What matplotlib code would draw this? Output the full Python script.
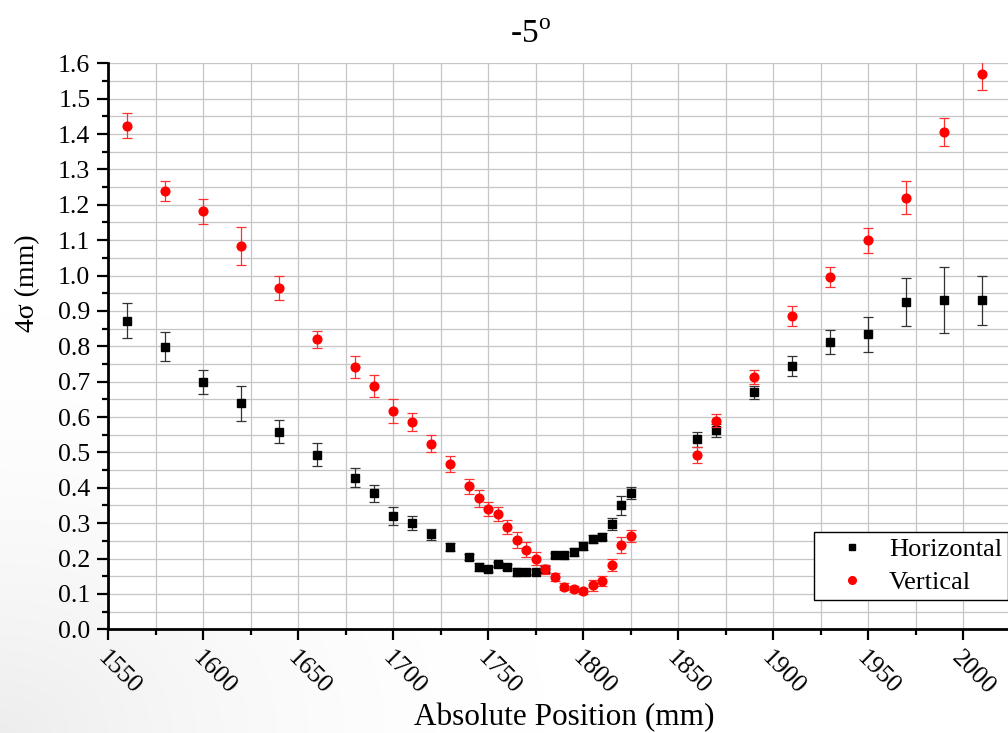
import numpy as np
import matplotlib
matplotlib.use('Agg')
import matplotlib.pyplot as plt
from matplotlib.ticker import MultipleLocator, FormatStrFormatter
from matplotlib.lines import Line2D

plt.rcParams['font.family'] = ['Liberation Serif', 'DejaVu Serif']
plt.rcParams['mathtext.fontset'] = 'custom'
plt.rcParams['mathtext.rm'] = 'Liberation Serif'

# beam size scan, -5 degree setting
position = [1560, 1580, 1600, 1620, 1640, 1660, 1680, 1690, 1700, 1710,
            1720, 1730, 1740, 1745, 1750, 1755, 1760, 1765, 1770, 1775,
            1780, 1785, 1790, 1795, 1800, 1805, 1810, 1815, 1820, 1825,
            1860, 1870, 1890, 1910, 1930, 1950, 1970, 1990, 2010]

horiz = [0.872, 0.799, 0.700, 0.639, 0.559, 0.494, 0.429, 0.385, 0.320, 0.300,
         0.268, 0.233, 0.205, 0.176, 0.170, 0.184, 0.176, 0.162, 0.161, 0.163,
         0.170, 0.209, 0.209, 0.218, 0.235, 0.255, 0.262, 0.298, 0.350, 0.385,
         0.537, 0.562, 0.670, 0.745, 0.812, 0.834, 0.926, 0.930, 0.930]
horiz_err = [0.049, 0.042, 0.034, 0.050, 0.032, 0.032, 0.027, 0.024, 0.025, 0.020,
             0.015, 0.011, 0.009, 0.010, 0.008, 0.007, 0.008, 0.010, 0.008, 0.008,
             0.008, 0.008, 0.010, 0.012, 0.011, 0.012, 0.010, 0.017, 0.028, 0.017,
             0.022, 0.019, 0.018, 0.028, 0.035, 0.050, 0.068, 0.093, 0.070]

vert = [1.424, 1.239, 1.182, 1.084, 0.966, 0.820, 0.741, 0.688, 0.617, 0.586,
        0.525, 0.467, 0.404, 0.370, 0.339, 0.327, 0.290, 0.252, 0.225, 0.200,
        0.170, 0.148, 0.120, 0.113, 0.108, 0.124, 0.137, 0.182, 0.238, 0.264,
        0.493, 0.590, 0.713, 0.886, 0.996, 1.099, 1.220, 1.406, 1.570]
vert_err = [0.036, 0.029, 0.035, 0.053, 0.034, 0.024, 0.031, 0.030, 0.033, 0.025,
            0.023, 0.022, 0.021, 0.025, 0.020, 0.020, 0.020, 0.023, 0.022, 0.019,
            0.013, 0.012, 0.010, 0.008, 0.008, 0.015, 0.015, 0.016, 0.023, 0.017,
            0.022, 0.019, 0.020, 0.028, 0.029, 0.034, 0.047, 0.040, 0.047]

W, H = 1008, 733
fig = plt.figure(figsize=(W / 100, H / 100), dpi=100)

# faint grey shading toward the lower-left corner of the page
bg = fig.add_axes([0, 0, 1, 1], zorder=-1)
yy, xx = np.mgrid[0:H, 0:W]
d = np.hypot(xx / 1.3, (H - yy))
shade = 1 - 0.07 * np.clip(1 - d / 420, 0, 1) ** 1.8
bg.imshow(np.dstack([shade] * 3), aspect='auto', interpolation='bilinear')
bg.axis('off')

ax = fig.add_axes([0.1076, 0.1415, 0.8949, 0.7722], zorder=1)
ax.set_facecolor('white')

ax.errorbar(position, horiz, yerr=horiz_err, fmt='s', color='black', ms=6,
            ecolor='#333333', elinewidth=0.9, capsize=3.6, capthick=0.9,
            zorder=3)
ax.errorbar(position, vert, yerr=vert_err, fmt='o', color='red', ms=6.3,
            ecolor='#ff3030', elinewidth=0.9, capsize=3.6, capthick=0.9,
            zorder=4)

ax.set_xlim(1550, 2025)
ax.set_ylim(0, 1.6)
ax.xaxis.set_major_locator(MultipleLocator(50))
ax.xaxis.set_minor_locator(MultipleLocator(25))
ax.yaxis.set_major_locator(MultipleLocator(0.1))
ax.yaxis.set_minor_locator(MultipleLocator(0.05))
ax.yaxis.set_major_formatter(FormatStrFormatter('%.1f'))

ax.grid(True, which='both', color='#c6c6c6', lw=0.9)
ax.set_axisbelow(True)

for s in ['top', 'right']:
    ax.spines[s].set_visible(False)
for s in ['left', 'bottom']:
    ax.spines[s].set_linewidth(2)

ax.tick_params(which='major', direction='out', length=8, width=1.6,
               labelsize=18.5, pad=5)
ax.tick_params(which='minor', direction='out', length=4, width=1.6)
plt.setp(ax.get_xticklabels(), rotation=-45, ha='left', va='top',
         rotation_mode='anchor')

fig.text(0.526, 0.941, r'-5$^{\mathrm{o}}$', fontsize=24, ha='center',
         va='baseline')
fig.text(0.5595, 0.011, 'Absolute Position (mm)', fontsize=22.5, ha='center',
         va='baseline')
fig.text(0.027, 0.613, '4σ (mm)', fontsize=20, rotation=90, ha='center',
         va='center')

handles = [Line2D([], [], ls='none', marker='s', color='black', ms=5),
           Line2D([], [], ls='none', marker='o', color='red', ms=5.5)]
leg = ax.legend(handles, ['Horizontal', 'Vertical'], loc='lower left',
                bbox_to_anchor=(0.782, 0.052), borderaxespad=0, fontsize=19,
                frameon=True, fancybox=False, edgecolor='black', framealpha=1,
                borderpad=0.22, handlelength=2.42, handletextpad=0.2,
                labelspacing=0.35)
leg.get_frame().set_linewidth(1.0)

fig.savefig('out.png', dpi=100)
